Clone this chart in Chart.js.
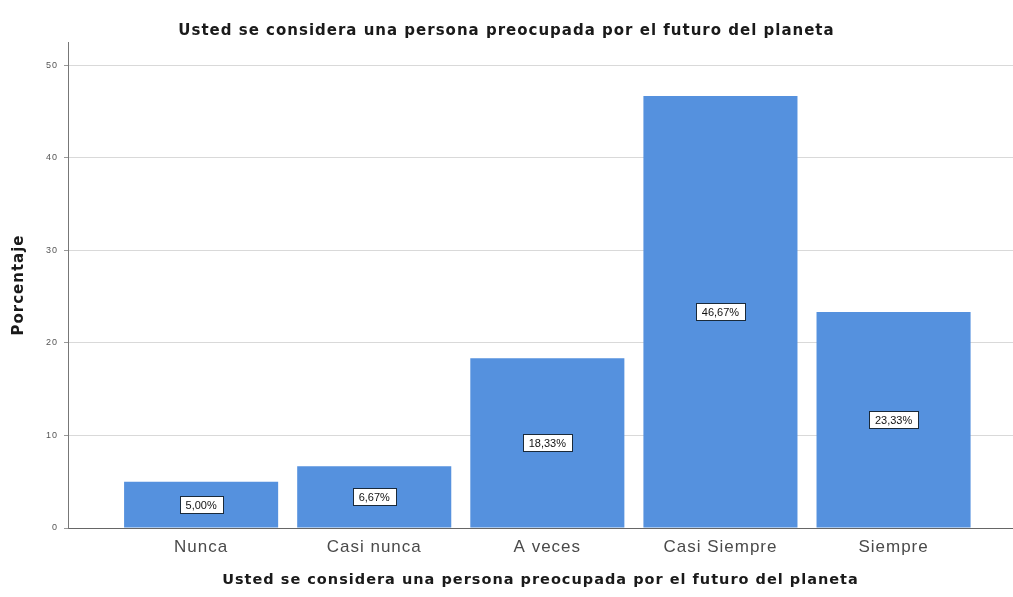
<!DOCTYPE html>
<html lang="es">
<head>
  <meta charset="UTF-8">
  <title>Preocupación por el futuro del planeta</title>
  <script src="https://cdn.jsdelivr.net/npm/chart.js"></script>
  <style>
    html, body {
      margin: 0;
      padding: 0;
      background: #fff;
    }
    #wrap {
      width: 1013px;
      height: 597px;
    }
  </style>
</head>
<body>
  <div id="wrap">
    <canvas id="chart" width="1013" height="597"></canvas>
  </div>

  <script>
    const titleText = 'Usted se considera una persona preocupada por el futuro del planeta';
    const categories = ['Nunca', 'Casi nunca', 'A veces', 'Casi Siempre', 'Siempre'];
    const percentages = [5.00, 6.67, 18.33, 46.67, 23.33];
    const yTicks = [0, 10, 20, 30, 40, 50];

    const barColor = '#5591de';

    // the original text is a bit spaced out, canvas can do that
    const spacing = {
      id: 'spacing',
      beforeUpdate(chart) { chart.ctx.letterSpacing = '1px'; },
      beforeDraw(chart) { chart.ctx.letterSpacing = '1px'; }
    };

    // white boxed labels in the middle of each bar, like the SPSS output
    const barLabels = {
      id: 'barLabels',
      afterDatasetsDraw(chart) {
        const ctx = chart.ctx;
        const meta = chart.getDatasetMeta(0);
        ctx.save();
        ctx.letterSpacing = '0px';
        ctx.font = '11px "Liberation Sans", Arial, sans-serif';
        ctx.textAlign = 'center';
        ctx.textBaseline = 'middle';
        meta.data.forEach((bar, i) => {
          const txt = percentages[i].toFixed(2).replace('.', ',') + '%';
          const cy = (bar.y + bar.base) / 2;
          const w = Math.round(ctx.measureText(txt).width + 12);
          const h = 17;
          const x0 = Math.round(bar.x - w / 2);
          const y0 = Math.round(cy - h / 2);
          ctx.fillStyle = '#fff';
          ctx.fillRect(x0, y0, w, h);
          ctx.strokeStyle = '#1a2a3a';
          ctx.lineWidth = 1;
          ctx.strokeRect(x0 + 0.5, y0 + 0.5, w, h);
          ctx.fillStyle = '#111';
          ctx.fillText(txt, bar.x, cy + 1);
        });
        ctx.restore();
      }
    };

    new Chart(document.getElementById('chart'), {
      type: 'bar',
      data: {
        datasets: [{
          data: percentages.map((v, i) => ({ x: i, y: v })),
          backgroundColor: barColor,
          borderWidth: 0,
          barPercentage: 0.89,
          categoryPercentage: 1
        }]
      },
      options: {
        responsive: false,
        animation: false,
        layout: { padding: 0 },
        plugins: {
          legend: { display: false },
          tooltip: { enabled: false },
          title: {
            display: true,
            text: titleText,
            color: '#1a1a1a',
            font: { family: '"DejaVu Sans", Verdana, sans-serif', size: 15, weight: 'bold', lineHeight: 1 },
            padding: { top: 24, bottom: 3 }
          }
        },
        scales: {
          x: {
            type: 'linear',
            offset: false,
            min: -0.769,
            max: 4.69,
            afterFit: s => { s.height = 69; },
            afterBuildTicks: s => { s.ticks = categories.map((c, i) => ({ value: i })); },
            ticks: {
              autoSkip: false,
              maxRotation: 0,
              padding: 9,
              color: '#4a4a4a',
              font: { family: '"Liberation Sans", Arial, sans-serif', size: 17 },
              callback: v => categories[v]
            },
            grid: { display: false, drawTicks: false },
            border: { display: true, color: '#666', width: 1 },
            title: {
              display: true,
              text: titleText,
              color: '#1a1a1a',
              font: { family: '"DejaVu Sans", Verdana, sans-serif', size: 14.5, weight: 'bold' },
              padding: { top: 0, bottom: 8 }
            }
          },
          y: {
            min: 0,
            max: 52.5,
            afterFit: s => { s.width = 68; },
            afterBuildTicks: s => { s.ticks = yTicks.map(v => ({ value: v })); },
            ticks: {
              includeBounds: false,
              padding: 6,
              color: '#555',
              font: { family: '"Liberation Sans", Arial, sans-serif', size: 9 }
            },
            grid: {
              color: '#d9d9d9',
              lineWidth: 1,
              tickLength: 4,
              tickColor: '#999'
            },
            border: { display: true, color: '#777', width: 1 },
            title: {
              display: true,
              text: 'Porcentaje',
              color: '#1a1a1a',
              font: { family: '"DejaVu Sans", Verdana, sans-serif', size: 15, weight: 'bold' },
              padding: { top: 10, bottom: 0 }
            }
          }
        }
      },
      plugins: [spacing, barLabels]
    });
  </script>
</body>
</html>
